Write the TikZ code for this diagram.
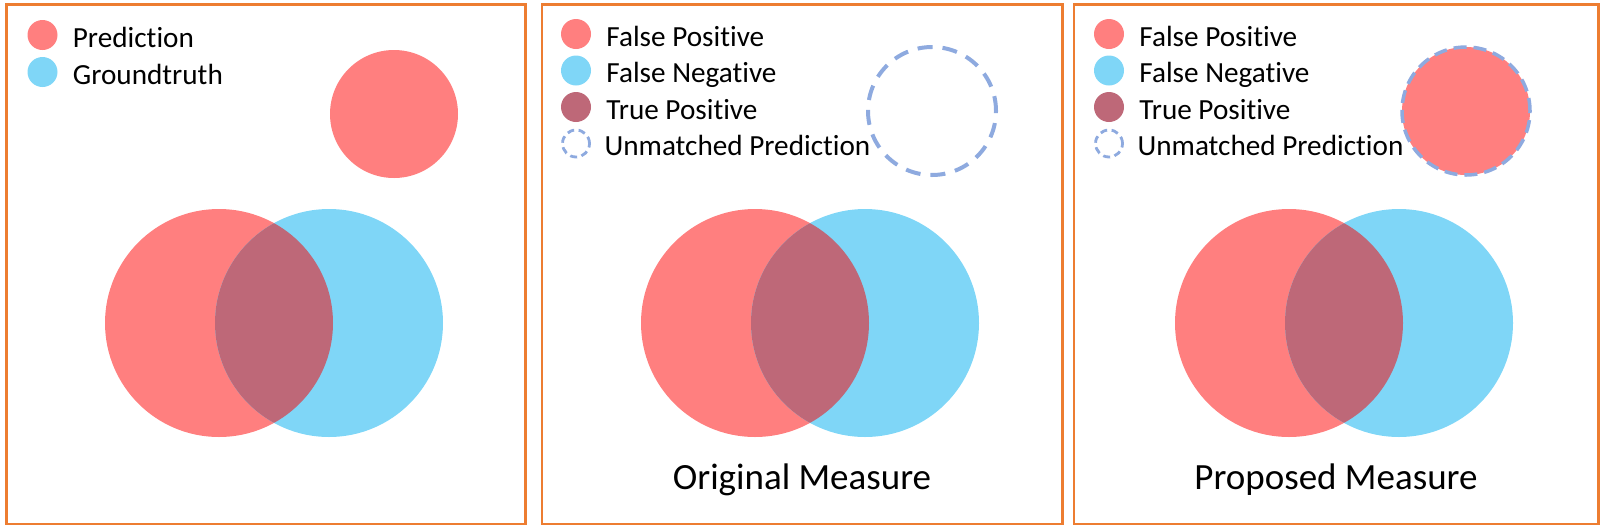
\documentclass[tikz,border=0pt]{standalone}
\usepackage{fontspec}
\setmainfont{Carlito}[Ligatures=NoCommon]
\usetikzlibrary{positioning}
\definecolor{borde}{HTML}{ED7D31}
\definecolor{rojo}{HTML}{FF7F7F}
\definecolor{azul}{HTML}{7FD6F7}
\definecolor{morado}{HTML}{BE6878}
\definecolor{lila}{HTML}{8EAADF}

\begin{document}
\begin{tikzpicture}[x=1pt,y=-1pt,
      marco/.style={draw=borde,line width=2.5pt},
      punto/.style={circle,inner sep=0pt,minimum size=30pt},
      hueco/.style={draw=lila,line width=4pt,dash pattern=on 15pt off 10pt},
      huequito/.style={circle,inner sep=0pt,minimum size=27pt,draw=lila,line width=2.8pt,dash pattern=on 7pt off 4.5pt},
      leyenda/.style={right=15pt of #1,yshift=-3pt,inner sep=0pt,text height=18.5pt,text depth=0pt,
                      font=\fontsize{29.2}{31}\selectfont},
      titulo/.style={anchor=base,inner sep=0pt,font=\fontsize{37}{40}\selectfont}]
    \useasboundingbox (0,0) rectangle (1606,531);
    % panel 1
    \draw[marco] (6.5,4.5) rectangle (525.5,524);
    \node[punto,fill=rojo] (d1a) at (42.5,35) {};
    \node[punto,fill=azul] (d1b) at (42.5,72) {};
    \node[leyenda=d1a] (t1a) {Prediction};
    \node[leyenda=d1b] (t1b) {Groundtruth};
    \fill[rojo] (394,114) circle (64pt);
    \fill[rojo] (219,323) circle (114pt);
    \fill[azul] (329,323) circle (114pt);
    \begin{scope}
      \clip (219,323) circle (114pt);
      \fill[morado] (329,323) circle (114pt);
    \end{scope}
    % panel 2
    \draw[marco] (542,4.5) rectangle (1062.5,524);
    \node[punto,fill=rojo] (d2a) at (576,34) {};
    \node[punto,fill=azul] (d2b) at (576,70.5) {};
    \node[punto,fill=morado] (d2c) at (576,107) {};
    \node[huequito] (d2d) at (576,143.5) {};
    \node[leyenda=d2a] (t2a) {False Positive};
    \node[leyenda=d2b] (t2b) {False Negative};
    \node[leyenda=d2c] (t2c) {True Positive};
    \node[leyenda=d2d,xshift=-1.5pt] (t2d) {Unmatched Prediction};
    \draw[hueco] (932,111) circle (64pt);
    \fill[rojo] (755,323) circle (114pt);
    \fill[azul] (865,323) circle (114pt);
    \begin{scope}
      \clip (755,323) circle (114pt);
      \fill[morado] (865,323) circle (114pt);
    \end{scope}
    \node[titulo] (o2) at (802,489) {Original Measure};
    % panel 3
    \draw[marco] (1074,4.5) rectangle (1598.5,524);
    \node[punto,fill=rojo] (d3a) at (1109,34) {};
    \node[punto,fill=azul] (d3b) at (1109,70.5) {};
    \node[punto,fill=morado] (d3c) at (1109,107) {};
    \node[huequito] (d3d) at (1109,143.5) {};
    \node[leyenda=d3a] (t3a) {False Positive};
    \node[leyenda=d3b] (t3b) {False Negative};
    \node[leyenda=d3c] (t3c) {True Positive};
    \node[leyenda=d3d,xshift=-1.5pt] (t3d) {Unmatched Prediction};
    \fill[rojo] (1466,111) circle (64pt);
    \draw[hueco,line width=3.5pt,dash pattern=on 13pt off 7pt] (1466,111) circle (64pt);
    \fill[rojo] (1289,323) circle (114pt);
    \fill[azul] (1399,323) circle (114pt);
    \begin{scope}
      \clip (1289,323) circle (114pt);
      \fill[morado] (1399,323) circle (114pt);
    \end{scope}
    \node[titulo] (o3) at (1336,489) {Proposed Measure};
\end{tikzpicture}
\end{document}
